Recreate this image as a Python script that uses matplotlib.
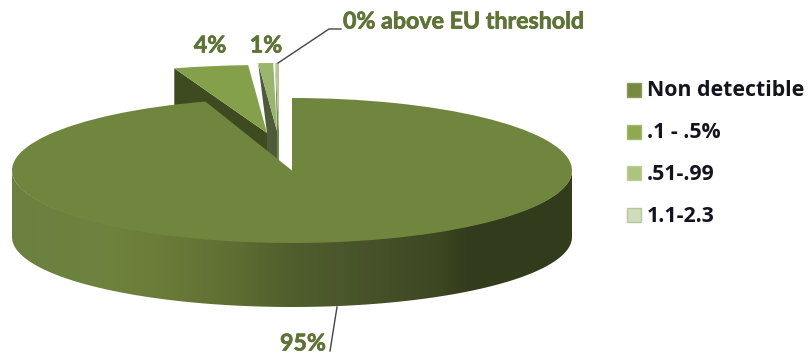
import numpy as np
from matplotlib import pyplot as plt
from matplotlib import patheffects
from matplotlib.colors import LinearSegmentedColormap
from matplotlib.patches import Polygon, Rectangle
from matplotlib.transforms import Affine2D

categories = ['Non detectible', '.1 - .5%', '.51-.99', '1.1-2.3']
values = [95, 4, 0.8, 0.2]
label_suffix = ['', '', '', ' above EU threshold']

top_colors = ['#70863f', '#84a04b', '#9ab56e', '#b4c896']
face_colors = ['#70863f', '#3e4a20', '#4e5a38', '#6d8a4c']
legend_colors = ['#76893f', '#8fa94f', '#adc47f', '#d0dcba']
legend_edges = ['#8a9a60', '#a3b873', '#bccd97', '#b7c6a0']
legend_y = [90, 132, 173, 215]

# pie geometry in pixels
cx, cy = 292, 170.5
rx, ry = 280, 72.5
depth = 66
out_rx, out_ry = 300, 68
tips = [(cx, cy), (267, 133), (277, 131), (279, 131)]


def rim(theta, a, b, x0, y0):
    # angle is clockwise from twelve o'clock
    t = np.radians(theta)
    return x0 + a * np.sin(t), y0 - b * np.cos(t)


fig = plt.figure(figsize=(8.09, 3.55), dpi=100)
ax = fig.add_axes([0, 0, 1, 1])
plt.rcParams['font.family'] = ['Open Sans', 'DejaVu Sans']

edges = np.concatenate([[0], np.cumsum(values)]) * 360 / sum(values)

# front wall of the big slice, shaded left to right
t = np.linspace(90, 270, 200)
xt, yt = rim(t, rx, ry - 1, cx, cy)
xb, yb = rim(t[::-1], rx, ry - 2.5, cx, cy + depth + 0.5)
wall = Polygon(np.column_stack([np.r_[xt, xb], np.r_[yt, yb]]), fc='none', ec='none')
ax.add_patch(wall)
shade = LinearSegmentedColormap.from_list('wall', [
    (0, '#6b8040'), (0.16, '#6f823e'), (0.25, '#6c7d3a'), (0.39, '#5f6f33'),
    (0.50, '#505e2d'), (0.64, '#47522a'), (0.76, '#3d4721'), (0.82, '#323b1b'),
    (1, '#333c1c')])
im = ax.imshow(np.linspace(0, 1, 560)[None, :], cmap=shade, aspect='auto',
               extent=(cx - rx, cx + rx, 312, 160), zorder=1)
im.set_clip_path(wall)

# cut faces of the pulled out slices, back to front
for i in [3, 2, 1]:
    tx, ty = tips[i]
    x0, y0 = rim(edges[i], out_rx, out_ry, tx, ty)
    if i == 1:
        pts = [(x0, y0), (tx, ty), (tx, ty + depth), (x0, y0 + depth)]
    elif i == 2:
        pts = [(x0, y0), (tx - 10, ty + 2), (tx - 10, ty + depth), (tx, ty + depth), (tx, ty)]
    else:
        pts = [(x0, y0), (tx - 2, ty), (tx - 2, ty + depth), (tx, ty + depth), (tx, ty)]
    ax.add_patch(Polygon(pts, fc=face_colors[i], ec='none', zorder=1.5 + (3 - i) * 0.2))

# top faces
wedges, _ = ax.pie(values, startangle=90, counterclock=False, colors=top_colors,
                   wedgeprops={'linewidth': 0})
for i, w in enumerate(wedges):
    a, b = (rx, ry) if i == 0 else (out_rx, out_ry)
    w.set_transform(Affine2D().scale(a, -b).translate(*tips[i]) + ax.transData)
    w.set_zorder(3 if i == 0 else 2.5)

ax.set_aspect('auto')
ax.set_xlim(0, 809)
ax.set_ylim(355, 0)
ax.axis('off')

# data labels and leader lines
label_color = '#5f7336'
labels = [f'{round(v)}%{s}' for v, s in zip(values, label_suffix)]
label_font = dict(color=label_color, fontsize=16.7, fontweight='bold', family=['Lato', 'DejaVu Sans'], va='center', zorder=5,
                  path_effects=[patheffects.withStroke(linewidth=0.5, foreground=label_color)])
ax.text(303, 344, labels[0], ha='center', **label_font)
ax.text(210, 46, labels[1], ha='center', **label_font)
ax.text(266, 46, labels[2], ha='center', **label_font)
ax.text(343, 22, labels[3], ha='left', **label_font)
ax.plot([278, 329, 341], [63, 29, 29], color='#444444', lw=1, zorder=5)
ax.plot([337, 330], [307, 351], color='#444444', lw=1, zorder=5)

# legend
for name, y, c, e in zip(categories, legend_y, legend_colors, legend_edges):
    ax.add_patch(Rectangle((627, y - 7), 14, 14, fc=c, ec=e, lw=1, zorder=5))
    ax.text(647, y + 1, name, color='#14141e', fontsize=15.3, fontweight='bold', ha='left', va='center', zorder=5)

plt.savefig('out.png', dpi=100)
